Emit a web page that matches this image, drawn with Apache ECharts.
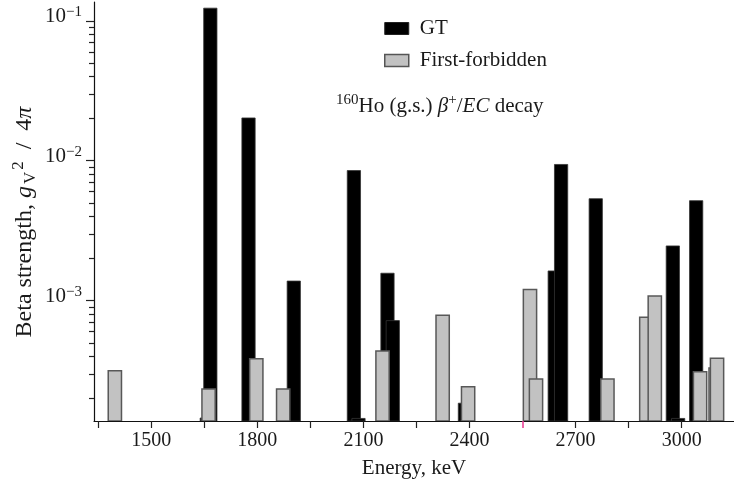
<!DOCTYPE html>
<html>
<head>
<meta charset="utf-8">
<script src="https://cdn.jsdelivr.net/npm/echarts@6/dist/echarts.min.js"></script>
<style>
  html, body { margin: 0; padding: 0; background: #fff; }
  #chart { width: 734px; height: 484px; }
</style>
</head>
<body>
<div id="chart"></div>
<script>
// GT transitions: level energy (keV) and beta strength
var gtEnergy   = [1657, 1667, 1775, 1903, 2073, 2086, 2168, 2183, 2387, 2641, 2659, 2757, 2975, 2990, 3041];
var gtStrength = [1.45e-4, 0.123, 0.0202, 1.38e-3, 8.5e-3, 1.44e-4, 1.57e-3, 7.2e-4, 1.85e-4, 1.63e-3, 9.4e-3, 5.35e-3, 2.46e-3, 1.44e-4, 5.18e-3];

// first-forbidden transitions
var ffEnergy   = [1397, 1662, 1797, 1873, 2154, 2324, 2396, 2571, 2588, 2790, 2900, 2924, 3052, 3096, 3100];
var ffStrength = [3.15e-4, 2.34e-4, 3.85e-4, 2.34e-4, 4.37e-4, 7.86e-4, 2.43e-4, 1.2e-3, 2.76e-4, 2.75e-4, 7.6e-4, 1.08e-3, 3.11e-4, 3.3e-4, 3.88e-4];

var majorTicks = [-3, -2, -1];          // log10 of 1e-3, 1e-2, 1e-1
var xTicks = [1350, 1500, 1650, 1800, 1950, 2100, 2250, 2400, 2700, 2850, 3000];
var xLabels = [1500, 1800, 2100, 2400, 2700, 3000];
var oddTick = [2550];

var binWidth = 37.5;   // keV
var yMin = -3.86, yMax = -0.866;
var font = '"Liberation Serif", "DejaVu Serif", serif';
var ink = '#1a1a1a';

var minorTicks = [];
[-4, -3, -2].forEach(function (p) {
  for (var k = 2; k <= 9; k++) {
    var v = p + Math.log10(k);
    if (v > yMin && v < yMax) minorTicks.push(v);
  }
});

function toData(es, ss) {
  return es.map(function (e, i) { return [e, Math.log10(ss[i])]; });
}

function barItem(fill, stroke, lw) {
  return function (params, api) {
    var x = api.value(0), v = api.value(1);
    var p0 = api.coord([x - binWidth / 2, v]);
    var p1 = api.coord([x + binWidth / 2, yMin]);
    return {
      type: 'rect',
      shape: { x: p0[0], y: p0[1], width: p1[0] - p0[0], height: p1[1] - p0[1] },
      style: { fill: fill, stroke: stroke, lineWidth: lw }
    };
  };
}

var chart = echarts.init(document.getElementById('chart'), null, { renderer: 'canvas' });

chart.setOption({
  backgroundColor: '#ffffff',
  animation: false,
  textStyle: { fontFamily: font },
  grid: { left: 94, right: 0, top: 2, bottom: 63, containLabel: false, outerBoundsMode: 'none' },
  legend: {
    left: 379, top: 13, orient: 'vertical',
    itemWidth: 24, itemHeight: 12, itemGap: 11,
    textStyle: { fontFamily: font, fontSize: 21, color: ink, padding: [0, 0, 0, 6] },
    data: [
      { name: 'GT', icon: 'rect', itemStyle: { color: '#000', borderColor: '#222', borderWidth: 1 } },
      { name: 'First-forbidden', icon: 'rect', itemStyle: { color: '#c2c2c2', borderColor: '#555', borderWidth: 1.5 } }
    ]
  },
  xAxis: [{
    type: 'value', min: 1338, max: 3148,
    splitLine: { show: false },
    axisLine: { lineStyle: { color: '#111', width: 1.2 } },
    axisTick: { customValues: xTicks, length: 7, lineStyle: { color: '#222', width: 1.2 } },
    axisLabel: {
      customValues: xLabels, margin: 10, fontSize: 20, fontFamily: font, color: ink,
      formatter: function (v) { return String(v); }
    },
    name: 'Energy, keV', nameLocation: 'middle', nameGap: 37,
    nameTextStyle: { fontSize: 21, fontFamily: font, color: ink }
  }, {
    type: 'value', min: 1338, max: 3148, position: 'bottom',
    splitLine: { show: false }, axisLine: { show: false }, axisLabel: { show: false },
    axisTick: { customValues: oddTick, length: 7, lineStyle: { color: '#e8368f', width: 1.5 } }
  }],
  yAxis: [{
    type: 'value', min: yMin, max: yMax, position: 'left',
    splitLine: { show: false },
    axisLine: { lineStyle: { color: '#111', width: 1.2 } },
    axisTick: { customValues: majorTicks, length: 8, lineStyle: { color: '#222', width: 1.2 } },
    axisLabel: {
      customValues: majorTicks, margin: 12, padding: [0, 0, 8, 0],
      formatter: function (v) { return '{b|10}{s|\u2212' + Math.round(-v) + '}'; },
      rich: {
        b: { fontSize: 21, fontFamily: font, color: ink, lineHeight: 24 },
        s: { fontSize: 15, fontFamily: font, color: ink, verticalAlign: 'top', lineHeight: 15 }
      }
    }
  }, {
    type: 'value', min: yMin, max: yMax, position: 'left', offset: 0,
    splitLine: { show: false }, axisLine: { show: false }, axisLabel: { show: false },
    axisTick: { customValues: minorTicks, length: 5, lineStyle: { color: '#222', width: 1.2 } }
  }],
  graphic: [{
    type: 'text', left: 336, top: 93,
    style: {
      text: '{s|160}{t|Ho (g.s.) }{i|\u03b2}{s|+}{t|/}{i|EC}{t| decay}',
      rich: {
        t: { fontSize: 21, fontFamily: font, fill: ink, lineHeight: 26 },
        i: { fontSize: 21, fontFamily: font, fontStyle: 'italic', fill: ink, lineHeight: 26 },
        s: { fontSize: 15, fontFamily: font, fill: ink, verticalAlign: 'top', lineHeight: 15 }
      }
    }
  }, {
    type: 'text', x: 25, y: 222, rotation: Math.PI / 2,
    style: {
      text: '{t|Beta strength, }{i|g}{sub|V}{sup|2}{t|  /  4}{i|\u03c0}',
      align: 'center', verticalAlign: 'middle',
      rich: {
        t: { fontSize: 24, fontFamily: font, fill: ink, lineHeight: 29 },
        i: { fontSize: 24, fontFamily: font, fontStyle: 'italic', fill: ink, lineHeight: 29 },
        sup: { fontSize: 17, fontFamily: font, fill: ink, verticalAlign: 'top', lineHeight: 17 },
        sub: { fontSize: 17, fontFamily: font, fill: ink, verticalAlign: 'bottom', lineHeight: 17, padding: [0, 2, 0, 2] }
      }
    }
  }],
  series: [{
    name: 'GT', type: 'custom', clip: true,
    itemStyle: { color: '#000' },
    renderItem: barItem('#000000', '#333333', 0.8),
    encode: { x: 0, y: 1 },
    data: toData(gtEnergy, gtStrength)
  }, {
    name: 'First-forbidden', type: 'custom', clip: true,
    itemStyle: { color: '#c2c2c2' },
    renderItem: barItem('#c2c2c2', '#585858', 1.5),
    encode: { x: 0, y: 1 },
    data: toData(ffEnergy, ffStrength)
  }]
});
</script>
</body>
</html>
